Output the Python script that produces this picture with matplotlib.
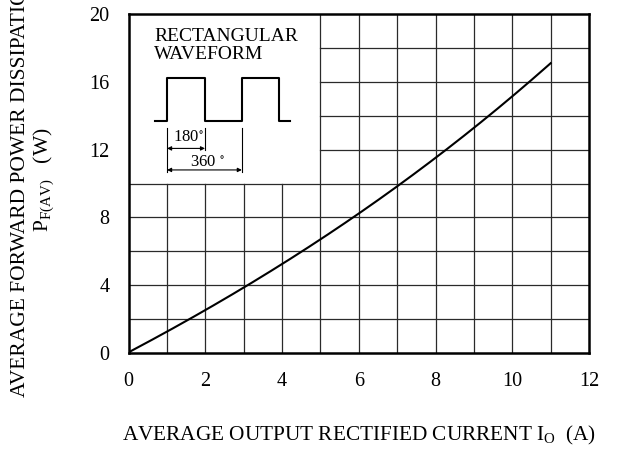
import matplotlib
matplotlib.use("Agg")
import matplotlib.pyplot as plt
import numpy as np

# Data
current_a = [0, 1, 2, 3, 4, 5, 6, 7, 8, 9, 10, 11]
power_w = [0, 1.32, 2.55, 3.9, 5.2, 6.68, 8.2, 9.82, 11.6, 13.3, 15.1, 17.1]
x_ticks = [0, 2, 4, 6, 8, 10, 12]
y_ticks = [0, 4, 8, 12, 16, 20]

plt.rcParams['font.family'] = ['Liberation Serif', 'DejaVu Serif']
plt.rcParams['mathtext.default'] = 'regular'

fig = plt.figure(figsize=(6.22, 4.55), dpi=100)
ax = fig.add_axes([128.7 / 622, 1 - 353 / 455, (589 - 128.7) / 622, (353 - 14) / 455])
ax.set_xlim(0, 12)
ax.set_ylim(0, 20)

gc = '#2a2a2a'
glw = 0.9
# vertical grid lines
for xv in range(1, 12):
    top = 10 if xv < 5 else 20
    ax.plot([xv, xv], [0, top], color=gc, lw=glw, zorder=1)
# horizontal grid lines
for yv in range(2, 20, 2):
    left = 5 if yv > 10 else 0
    ax.plot([left, 12], [yv, yv], color=gc, lw=glw, zorder=1)

# smooth curve through the read points
xs = np.array(current_a, dtype=float)
ys = np.array(power_w, dtype=float)
xf = np.linspace(0, 11, 200)
coef = np.polyfit(xs, ys, 3)
yf = np.polyval(coef, xf)
yf[0] = 0
ax.plot(xf, yf, color='black', lw=1.5, zorder=3)

for s in ax.spines.values():
    s.set_linewidth(1.8)
ax.set_xticks(x_ticks)
ax.set_yticks(y_ticks)
ax.tick_params(length=0, labelsize=14.5)
ax.tick_params(axis='x', pad=14)
ax.tick_params(axis='y', pad=14)

# inset: rectangular waveform
ax.text(0.66, 18.14, 'RECTANGULAR\nWAVEFORM', fontsize=14, va='center', ha='left',
        linespacing=1.12)
wx = [0.69, 1.0, 1.0, 1.99, 1.99, 2.95, 2.95, 3.92, 3.92, 4.2]
wy = [13.7, 13.7, 16.22, 16.22, 13.7, 13.7, 16.22, 16.22, 13.7, 13.7]
ax.plot(wx, wy, color='black', lw=1.5, zorder=3)
ax.plot([1.0, 1.0], [13.3, 10.65], color='black', lw=0.8)
ax.plot([1.99, 1.99], [13.3, 11.95], color='black', lw=0.8)
ax.plot([2.95, 2.95], [13.3, 10.65], color='black', lw=0.8)
ax.annotate('', xy=(1.0, 12.07), xytext=(1.99, 12.07),
            arrowprops=dict(arrowstyle='<|-|>', lw=0.8, color='black',
                            mutation_scale=6, shrinkA=0, shrinkB=0))
ax.annotate('', xy=(1.0, 10.8), xytext=(2.95, 10.8),
            arrowprops=dict(arrowstyle='<|-|>', lw=0.8, color='black',
                            mutation_scale=6, shrinkA=0, shrinkB=0))
ax.text(1.15, 12.75, '180$^{\\circ}$', fontsize=12, ha='left', va='center')
ax.text(1.6, 11.28, '360 $^{\\circ}$', fontsize=12, ha='left', va='center')

fig.text(122 / 622, 1 - 435 / 455, 'AVERAGE OUTPUT RECTIFIED CURRENT I$_{O}$  (A)',
         fontsize=15.3, ha='left', va='center')
fig.text(21 / 622, 1 - 397 / 455, 'AVERAGE FORWARD POWER DISSIPATION',
         fontsize=15.5, rotation=90, ha='center', va='bottom')
fig.text(44 / 622, 1 - 180 / 455, 'P$_{F(AV)}$   (W)',
         fontsize=15.5, rotation=90, ha='center', va='center')

fig.savefig('out.png', dpi=100)
